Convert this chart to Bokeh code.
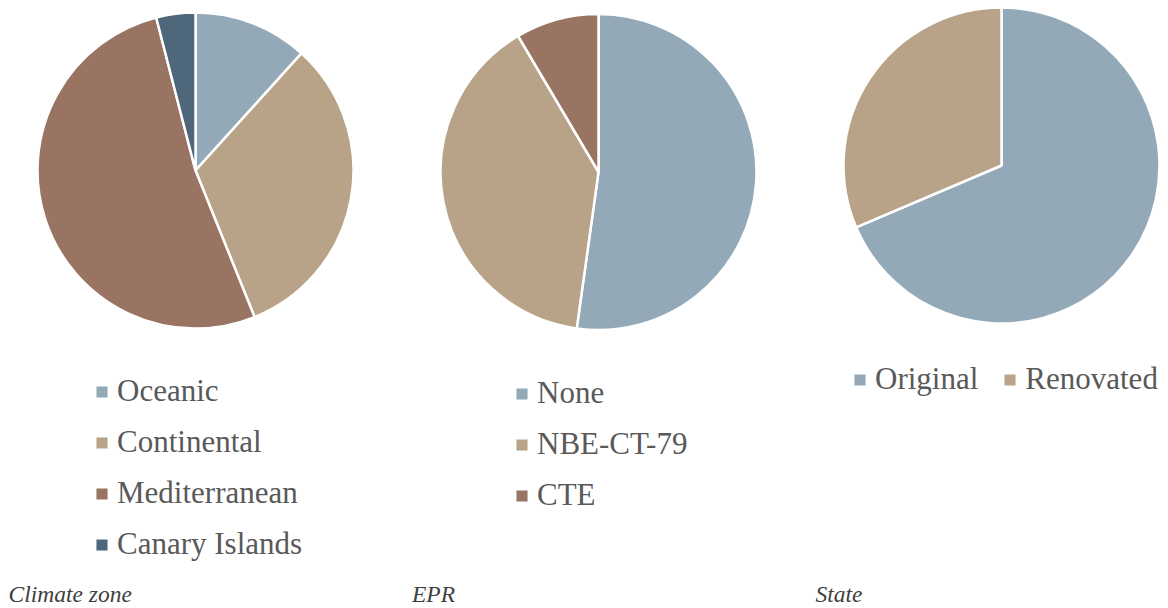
import numpy as np
from bokeh.plotting import figure
from bokeh.models import ColumnDataSource, Legend, LegendItem, Range1d
from bokeh.core.properties import value
from bokeh.embed import file_html
from bokeh.resources import INLINE

# ---- data ----
climate_labels = ["Oceanic", "Continental", "Mediterranean", "Canary Islands"]
climate_values = [11.7, 32.2, 52.1, 4.0]

epr_labels = ["None", "NBE-CT-79", "CTE"]
epr_values = [52.2, 39.3, 8.5]

state_labels = ["Original", "Renovated"]
state_values = [68.6, 31.4]

chart_titles = ["Climate zone", "EPR", "State"]

palette = ["#93A9B8", "#B9A388", "#997462", "#4E677A"]

FONT = "Liberation Serif"
W, H = 1168, 608
R = 158

p = figure(width=W, height=H, x_range=Range1d(0, W), y_range=Range1d(0, H),
           output_backend="svg", toolbar_location=None, min_border=0,
           x_axis_location=None, y_axis_location=None)
p.grid.visible = False
p.outline_line_color = None
p.background_fill_color = "white"


def add_pie(cx, cy, labels, values):
    v = np.array(values, dtype=float)
    frac = v / v.sum()
    cum = np.concatenate([[0.0], np.cumsum(frac)])
    start = np.pi / 2 - 2 * np.pi * cum[:-1]
    end = np.pi / 2 - 2 * np.pi * cum[1:]
    src = ColumnDataSource(dict(label=labels, value=values, start=start, end=end,
                                color=palette[:len(labels)]))
    return p.wedge(x=cx, y=cy, radius=R, start_angle="start", end_angle="end",
                   direction="clock", fill_color="color", line_color="white",
                   line_width=2.5, source=src)


def add_legend(r, labels, loc, orientation="vertical", spacing=15):
    items = [LegendItem(label=l, renderers=[r], index=i) for i, l in enumerate(labels)]
    leg = Legend(items=items, location=loc, orientation=orientation,
                 glyph_width=17, glyph_height=17, label_standoff=7,
                 label_text_font=FONT, label_text_font_size="31px",
                 label_text_color="#595959", label_height=36, spacing=spacing,
                 padding=0, margin=0, background_fill_alpha=0,
                 border_line_alpha=0)
    p.add_layout(leg)


r1 = add_pie(195, 438, climate_labels, climate_values)
r2 = add_pie(598, 436.5, epr_labels, epr_values)
r3 = add_pie(1001, 443, state_labels, state_values)

add_legend(r1, climate_labels, (93, 46))
add_legend(r2, epr_labels, (513, 95))
add_legend(r3, state_labels, (851, 211), orientation="horizontal", spacing=23)

p.text(x=[8, 411.5, 815], y=[14.5, 14.5, 14.5], text=chart_titles,
       text_font=value(FONT), text_font_style="italic", text_font_size="23.5px",
       text_color="#404040", text_baseline="middle", text_align="left")

open("out.html", "w").write(file_html(p, INLINE))
